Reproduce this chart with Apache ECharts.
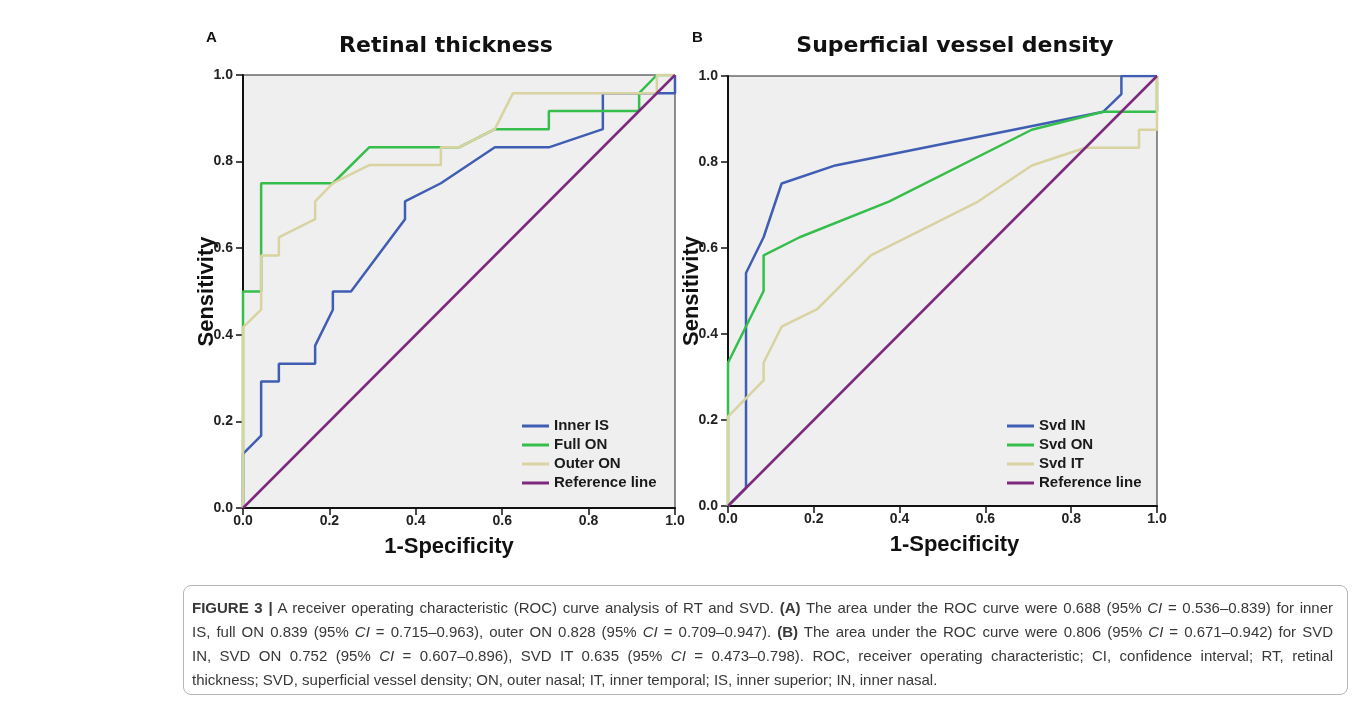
<!DOCTYPE html>
<html>
<head>
<meta charset="utf-8">
<title>ROC curves of RT and SVD</title>
<script src="https://cdn.jsdelivr.net/npm/echarts@6/dist/echarts.min.js"></script>
<style>
    html, body { margin: 0; padding: 0; background: #fff; }
    #chart { position: absolute; left: 0; top: 0; width: 1357px; height: 704px; }
    #caption {
        position: absolute; left: 183px; top: 585px; width: 1165px; height: 110px;
        border: 1px solid #b5b5b5; border-radius: 8px; box-sizing: border-box;
        padding: 10px 0 0 8px;
        font-family: "Liberation Sans", Arial, sans-serif; font-size: 15px; color: #383838;
    }
    #caption .ln { width: 1141px; height: 24px; line-height: 24px; white-space: nowrap;
        text-align: justify; text-align-last: justify; }
    #caption .ln.last { text-align-last: left; }
</style>
</head>
<body>
<div id="chart"></div>
<div id="caption">
    <div class="ln"><b>FIGURE 3 |</b> A receiver operating characteristic (ROC) curve analysis of RT and SVD. <b>(A)</b> The area under the ROC curve were 0.688 (95% <i>CI</i> = 0.536–0.839) for inner</div>
    <div class="ln">IS, full ON 0.839 (95% <i>CI</i> = 0.715–0.963), outer ON 0.828 (95% <i>CI</i> = 0.709–0.947). <b>(B)</b> The area under the ROC curve were 0.806 (95% <i>CI</i> = 0.671–0.942) for SVD</div>
    <div class="ln">IN, SVD ON 0.752 (95% <i>CI</i> = 0.607–0.896), SVD IT 0.635 (95% <i>CI</i> = 0.473–0.798). ROC, receiver operating characteristic; CI, confidence interval; RT, retinal</div>
    <div class="ln last">thickness; SVD, superficial vessel density; ON, outer nasal; IT, inner temporal; IS, inner superior; IN, inner nasal.</div>
</div>
<script>
    // tick labels shared by both panels
    var tickLabels = ['0.0', '0.2', '0.4', '0.6', '0.8', '1.0'];

    // panel A - retinal thickness
    var rtNames = ['Inner IS', 'Full ON', 'Outer ON', 'Reference line'];
    var innerIsFpr = [0, 0, 0.042, 0.042, 0.083, 0.083, 0.167, 0.167, 0.208, 0.208, 0.25, 0.375, 0.375, 0.458, 0.583, 0.708, 0.833, 0.833, 1.0, 1.0];
    var innerIsTpr = [0, 0.125, 0.167, 0.292, 0.292, 0.333, 0.333, 0.375, 0.458, 0.5, 0.5, 0.667, 0.708, 0.75, 0.833, 0.833, 0.875, 0.958, 0.958, 1.0];
    var fullOnFpr = [0, 0, 0.042, 0.042, 0.208, 0.292, 0.5, 0.583, 0.708, 0.708, 0.917, 0.917, 0.958, 1.0];
    var fullOnTpr = [0, 0.5, 0.5, 0.75, 0.75, 0.833, 0.833, 0.875, 0.875, 0.917, 0.917, 0.958, 1.0, 1.0];
    var outerOnFpr = [0, 0, 0.042, 0.042, 0.083, 0.083, 0.167, 0.167, 0.208, 0.292, 0.458, 0.458, 0.5, 0.583, 0.625, 0.958, 0.958, 1.0];
    var outerOnTpr = [0, 0.417, 0.458, 0.583, 0.583, 0.625, 0.667, 0.708, 0.75, 0.792, 0.792, 0.833, 0.833, 0.875, 0.958, 0.958, 1.0, 1.0];

    // panel B - superficial vessel density
    var svdNames = ['Svd IN', 'Svd ON', 'Svd IT', 'Reference line'];
    var svdInFpr = [0, 0.042, 0.042, 0.083, 0.125, 0.25, 0.875, 0.917, 0.917, 1.0];
    var svdInTpr = [0, 0.042, 0.542, 0.625, 0.75, 0.792, 0.917, 0.958, 1.0, 1.0];
    var svdOnFpr = [0, 0, 0.083, 0.083, 0.167, 0.375, 0.708, 0.875, 1.0, 1.0];
    var svdOnTpr = [0, 0.333, 0.5, 0.583, 0.625, 0.708, 0.875, 0.917, 0.917, 1.0];
    var svdItFpr = [0, 0, 0.083, 0.083, 0.125, 0.208, 0.333, 0.583, 0.708, 0.833, 0.958, 0.958, 1.0, 1.0];
    var svdItTpr = [0, 0.208, 0.292, 0.333, 0.417, 0.458, 0.583, 0.708, 0.792, 0.833, 0.833, 0.875, 0.875, 1.0];

    var refFpr = [0, 1];
    var refTpr = [0, 1];

    var colors = ['#3f5db3', '#35be4b', '#d8d3a0', '#7d2a7e'];
    var labelFont = '"Liberation Sans", Arial, sans-serif';

    function pairs(xs, ys) {
        return xs.map(function (x, i) { return [x, ys[i]]; });
    }

    // xShift nudges the x-axis title off the centre like in the figure
    function makeAxis(gridIndex, isX, xShift) {
        var pad = [0, 0, 0, 0];
        if (isX && xShift < 0) pad = [0, -2 * xShift, 0, 0];
        if (isX && xShift > 0) pad = [0, 0, 0, 2 * xShift];
        return {
            type: 'value', gridIndex: gridIndex, min: 0, max: 1, interval: 0.2,
            name: isX ? '1-Specificity' : 'Sensitivity',
            nameLocation: 'middle',
            nameGap: isX ? 28 : 25,
            nameMoveOverlap: false,
            nameTextStyle: {fontFamily: labelFont, fontWeight: 'bold', fontSize: 22, color: '#111', padding: pad},
            axisLine: {show: true, onZero: false, lineStyle: {color: '#111', width: 2}},
            axisTick: {show: true, length: 7, lineStyle: {color: '#111', width: 1.5}},
            axisLabel: {
                margin: isX ? 6 : 10,
                fontFamily: labelFont, fontWeight: 'bold', fontSize: 14, color: '#222',
                formatter: function (v) { return tickLabels[Math.round(v / 0.2)]; }
            },
            splitLine: {show: false}
        };
    }

    function makeSeries(names, xsList, ysList, idx) {
        return names.map(function (name, i) {
            return {
                name: name, type: 'line', xAxisIndex: idx, yAxisIndex: idx,
                data: pairs(xsList[i], ysList[i]),
                showSymbol: false, symbol: 'none', animation: false,
                lineStyle: {color: colors[i], width: 2.5},
                itemStyle: {color: colors[i]},
                z: 2 + i
            };
        });
    }

    function makeLegend(names, left) {
        return {
            orient: 'vertical', left: left, top: 413,
            data: names, icon: 'rect', itemWidth: 27, itemHeight: 3, itemGap: 3,
            selectedMode: false,
            textStyle: {fontFamily: labelFont, fontWeight: 'bold', fontSize: 15, color: '#1a1a1a', lineHeight: 16}
        };
    }

    var chart = echarts.init(document.getElementById('chart'));
    var option = {
        animation: false,
        grid: [
            {left: 243, top: 75, width: 432, height: 433, show: true, backgroundColor: '#efefef', borderColor: '#222', borderWidth: 1},
            {left: 728, top: 76, width: 429, height: 430, show: true, backgroundColor: '#efefef', borderColor: '#222', borderWidth: 1}
        ],
        xAxis: [makeAxis(0, true, -10), makeAxis(1, true, 12)],
        yAxis: [makeAxis(0, false, 0), makeAxis(1, false, 0)],
        legend: [makeLegend(rtNames, 517), makeLegend(svdNames, 1002)],
        graphic: [
            {type: 'text', left: 206, top: 30, style: {text: 'A', font: 'bold 15px ' + labelFont, fill: '#111'}},
            {type: 'text', left: 692, top: 30, style: {text: 'B', font: 'bold 15px ' + labelFont, fill: '#111'}},
            {type: 'text', x: 446, y: 46, style: {text: 'Retinal thickness', font: 'bold 22px "DejaVu Sans", sans-serif', fill: '#111', align: 'center', verticalAlign: 'middle'}},
            {type: 'text', x: 955, y: 46, style: {text: 'Superficial vessel density', font: 'bold 22px "DejaVu Sans", sans-serif', fill: '#111', align: 'center', verticalAlign: 'middle'}}
        ],
        series: makeSeries(rtNames, [innerIsFpr, fullOnFpr, outerOnFpr, refFpr], [innerIsTpr, fullOnTpr, outerOnTpr, refTpr], 0)
            .concat(makeSeries(svdNames, [svdInFpr, svdOnFpr, svdItFpr, refFpr], [svdInTpr, svdOnTpr, svdItTpr, refTpr], 1))
    };
    chart.setOption(option);
</script>
</body>
</html>
